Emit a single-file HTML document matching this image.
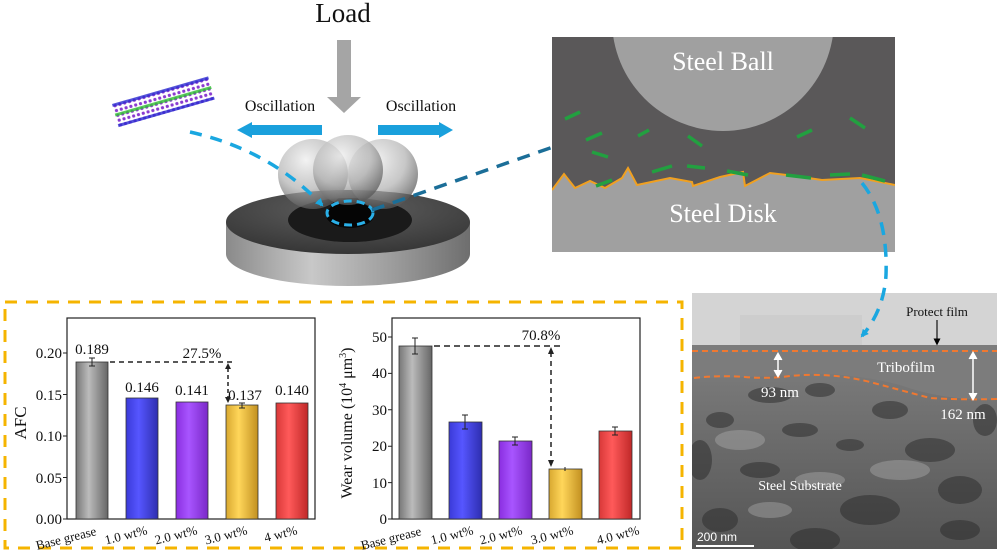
<!DOCTYPE html>
<html><head><meta charset="utf-8"><style>
html,body{margin:0;padding:0;background:#fff;}
svg{display:block;font-family:"Liberation Serif",serif;}
</style></head><body>
<svg width="997" height="555" viewBox="0 0 997 555" xmlns="http://www.w3.org/2000/svg">
<defs>
<linearGradient id="side" x1="0" x2="1"><stop offset="0" stop-color="#8a8a8a"/><stop offset="0.35" stop-color="#c8c8c8"/><stop offset="0.7" stop-color="#9a9a9a"/><stop offset="1" stop-color="#6e6e6e"/></linearGradient>
<radialGradient id="top" cx="0.5" cy="0.3" r="0.7"><stop offset="0" stop-color="#606060"/><stop offset="1" stop-color="#363636"/></radialGradient>
<radialGradient id="ball" cx="0.4" cy="0.3" r="0.7"><stop offset="0" stop-color="#f0f0f0" stop-opacity="0.8"/><stop offset="0.6" stop-color="#b0b0b0" stop-opacity="0.7"/><stop offset="1" stop-color="#5a5a5a" stop-opacity="0.75"/></radialGradient>
<linearGradient id="g0" x1="0" x2="1"><stop offset="0" stop-color="#777"/><stop offset="0.4" stop-color="#bbb"/><stop offset="1" stop-color="#666"/></linearGradient>
<linearGradient id="g1" x1="0" x2="1"><stop offset="0" stop-color="#3a3ad8"/><stop offset="0.4" stop-color="#5656ff"/><stop offset="1" stop-color="#2e2eb0"/></linearGradient>
<linearGradient id="g2" x1="0" x2="1"><stop offset="0" stop-color="#8a2ee0"/><stop offset="0.4" stop-color="#a855ff"/><stop offset="1" stop-color="#7a28c8"/></linearGradient>
<linearGradient id="g3" x1="0" x2="1"><stop offset="0" stop-color="#d8a830"/><stop offset="0.4" stop-color="#ffd65a"/><stop offset="1" stop-color="#c29020"/></linearGradient>
<linearGradient id="g4" x1="0" x2="1"><stop offset="0" stop-color="#d83838"/><stop offset="0.4" stop-color="#ff5a5a"/><stop offset="1" stop-color="#c02828"/></linearGradient>
<linearGradient id="tem" x1="0" y1="0" x2="0" y2="1"><stop offset="0" stop-color="#8a8a8a"/><stop offset="0.3" stop-color="#7a7a7a"/><stop offset="0.6" stop-color="#6a6a6a"/><stop offset="1" stop-color="#555"/></linearGradient>
<clipPath id="sc"><rect x="552" y="37" width="343" height="215"/></clipPath>
<clipPath id="tc"><rect x="692" y="293" width="305" height="256"/></clipPath>
<pattern id="mol" width="5" height="5" patternUnits="userSpaceOnUse"><circle cx="2.5" cy="2.5" r="1.6" fill="#8a3ad0"/></pattern>
<marker id="ab" markerWidth="8" markerHeight="8" refX="6" refY="4" orient="auto" markerUnits="userSpaceOnUse"><path d="M0,0 L8,4 L0,8z" fill="#1aa7e0"/></marker>
<marker id="ak" markerWidth="7" markerHeight="7" refX="3.5" refY="3.5" orient="auto" markerUnits="userSpaceOnUse"><path d="M0,0 L7,3.5 L0,7z" fill="#000"/></marker>
</defs>

<!-- Load -->
<text x="343" y="22" font-size="27" text-anchor="middle" fill="#111">Load</text>
<rect x="337" y="40" width="14" height="58" fill="#a5a5a5"/>
<path d="M327,97 L361,97 L344,113z" fill="#a5a5a5"/>
<text x="280" y="111" font-size="16" text-anchor="middle" fill="#111">Oscillation</text>
<text x="421" y="111" font-size="16" text-anchor="middle" fill="#111">Oscillation</text>
<rect x="252" y="125" width="70" height="10" fill="#1aa0dc"/><path d="M252,122 L237,130 L252,138z" fill="#1aa0dc"/>
<rect x="378" y="125" width="62" height="10" fill="#1aa0dc"/><path d="M439,122 L453,130 L439,138z" fill="#1aa0dc"/>

<!-- molecule -->
<g transform="translate(112,104) rotate(-16)">
<rect x="0" y="0" width="100" height="24" fill="url(#mol)"/>
<rect x="0" y="0" width="100" height="3" fill="#2b2bd0" opacity="0.8"/>
<rect x="0" y="21" width="100" height="3" fill="#2b2bd0" opacity="0.8"/>
<rect x="0" y="10" width="100" height="3" fill="#30c030" opacity="0.8"/>
</g>

<!-- disk -->
<path d="M226,222 L226,254 A122,32 0 0 0 470,254 L470,222z" fill="url(#side)"/>
<ellipse cx="348" cy="222" rx="122" ry="32" fill="url(#top)"/>
<ellipse cx="350" cy="220" rx="62" ry="22" fill="#1a1a1a"/>
<ellipse cx="350" cy="215" rx="24" ry="13" fill="#050505"/>
<!-- balls -->
<circle cx="313" cy="174" r="35" fill="url(#ball)"/>
<circle cx="383" cy="174" r="35" fill="url(#ball)"/>
<circle cx="348" cy="170" r="35" fill="url(#ball)"/>
<ellipse cx="350" cy="213" rx="23" ry="12" fill="none" stroke="#2ab0e8" stroke-width="3" stroke-dasharray="8,5"/>

<!-- schematic -->
<g clip-path="url(#sc)">
<rect x="552" y="37" width="343" height="215" fill="#5a5859"/>
<circle cx="723" cy="20" r="111" fill="#a0a0a0"/>
<path d="M552,190 L564,174 L575,188 L590,181 L605,188 L622,178 L628,168 L637,185 L670,178 L692,182 L693,186 L720,177 L743,172 L745,186 L770,173 L795,176 L822,180 L860,178 L895,185 L895,252 L552,252z" fill="#a0a0a0"/>
<path d="M552,190 L564,174 L575,188 L590,181 L605,188 L622,178 L628,168 L637,185 L670,178 L692,182 L693,186 L720,177 L743,172 L745,186 L770,173 L795,176 L822,180 L860,178 L895,185" fill="none" stroke="#f0a020" stroke-width="2"/>
<g stroke="#22a040" stroke-width="3.5">
<path d="M565,119 L580,112 M586,140 L602,133 M592,152 L608,157 M638,136 L649,130 M688,136 L702,146 M687,166 L705,168 M652,172 L672,166 M596,186 L612,180 M727,171 L748,175 M797,137 L812,130 M850,118 L865,128 M786,175 L811,178 M830,175 L850,174 M862,175 L885,181"/>
</g>
<text x="723" y="70" font-size="26" text-anchor="middle" fill="#fff">Steel Ball</text>
<text x="723" y="222" font-size="26" text-anchor="middle" fill="#fff">Steel Disk</text>
</g>

<!-- TEM -->
<g clip-path="url(#tc)">
<rect x="692" y="293" width="305" height="256" fill="url(#tem)"/>
<g fill="#2a2a2a" opacity="0.5">
<ellipse cx="770" cy="395" rx="22" ry="8"/><ellipse cx="820" cy="390" rx="15" ry="7"/><ellipse cx="890" cy="410" rx="18" ry="9"/>
<ellipse cx="720" cy="420" rx="14" ry="8"/><ellipse cx="800" cy="430" rx="18" ry="7"/><ellipse cx="930" cy="450" rx="25" ry="12"/>
<ellipse cx="850" cy="445" rx="14" ry="6"/><ellipse cx="760" cy="470" rx="20" ry="8"/><ellipse cx="960" cy="490" rx="22" ry="14"/>
<ellipse cx="870" cy="510" rx="30" ry="15"/><ellipse cx="720" cy="520" rx="18" ry="12"/><ellipse cx="960" cy="530" rx="20" ry="10"/>
<ellipse cx="700" cy="460" rx="12" ry="20"/><ellipse cx="815" cy="540" rx="25" ry="12"/><ellipse cx="985" cy="420" rx="12" ry="16"/>
</g>
<g fill="#bdbdbd" opacity="0.35">
<ellipse cx="740" cy="440" rx="25" ry="10"/><ellipse cx="900" cy="470" rx="30" ry="10"/><ellipse cx="820" cy="480" rx="25" ry="8"/><ellipse cx="770" cy="510" rx="22" ry="8"/>
</g>
<path d="M692,345 L997,345 L997,400 Q940,400 900,385 Q840,370 790,375 Q740,378 692,378z" fill="#7c7c7c"/>
<rect x="692" y="293" width="305" height="52" fill="#d4d4d4"/>
<rect x="740" y="315" width="122" height="30" fill="#cdcdcd"/>
</g>
<path d="M692,351 L997,351" stroke="#f07830" stroke-width="2" stroke-dasharray="6,4"/>
<path d="M694,378 Q720,375 745,377 Q770,379 790,376 Q830,372 870,382 Q900,390 930,398 Q960,400 997,399" fill="none" stroke="#f07830" stroke-width="2" stroke-dasharray="6,4"/>
<text x="937" y="316" font-size="13" text-anchor="middle" fill="#111">Protect film</text>
<path d="M937,320 L937,342" stroke="#111" stroke-width="1.2" marker-end="url(#ak)"/>
<text x="906" y="372" font-size="15" text-anchor="middle" fill="#fff">Tribofilm</text>
<path d="M778,356 L778,374 M973,355 L973,397" stroke="#fff" stroke-width="1.5"/>
<path d="M774,360 L778,353 L782,360 M774,370 L778,377 L782,370 M969,359 L973,352 L977,359 M969,393 L973,400 L977,393" fill="#fff" stroke="#fff"/>
<text x="780" y="397" font-size="15" text-anchor="middle" fill="#fff">93 nm</text>
<text x="963" y="419" font-size="15" text-anchor="middle" fill="#fff">162 nm</text>
<text x="800" y="490" font-size="14" text-anchor="middle" fill="#fff">Steel Substrate</text>
<text x="697" y="541" font-size="12" fill="#fff" font-family="Liberation Sans,sans-serif">200 nm</text>
<rect x="696" y="545" width="58" height="2" fill="#fff"/>

<!-- connectors -->
<path d="M190,132 Q270,150 322,205" fill="none" stroke="#1aa7e0" stroke-width="3.5" stroke-dasharray="12,9" marker-end="url(#ab)"/>
<path d="M372,210 L553,147" fill="none" stroke="#1b6e98" stroke-width="3.5" stroke-dasharray="13,9"/>
<path d="M862,183 Q888,215 886,275 Q884,310 862,336" fill="none" stroke="#1aa7e0" stroke-width="3.5" stroke-dasharray="13,9" marker-end="url(#ab)"/>

<!-- dashed orange box -->
<rect x="5" y="302" width="677" height="246" fill="none" stroke="#f5b400" stroke-width="3" stroke-dasharray="12,9"/>

<!-- chart 1 -->
<g font-size="15" fill="#111">
<rect x="67" y="318" width="248" height="201" fill="none" stroke="#222" stroke-width="1.2"/>
<g stroke="#222" stroke-width="1"><path d="M63,519h4M63,477.5h4M63,436h4M63,394.5h4M63,353h4"/></g>
<g text-anchor="end"><text x="62" y="524">0.00</text><text x="62" y="483">0.05</text><text x="62" y="441">0.10</text><text x="62" y="400">0.15</text><text x="62" y="358">0.20</text></g>
<text transform="translate(26,423) rotate(-90)" text-anchor="middle" font-size="17">AFC</text>
<rect x="76" y="362" width="32" height="157" fill="url(#g0)" stroke="#333" stroke-width="0.8"/>
<rect x="126" y="398" width="32" height="121" fill="url(#g1)" stroke="#333" stroke-width="0.8"/>
<rect x="176" y="402" width="32" height="117" fill="url(#g2)" stroke="#333" stroke-width="0.8"/>
<rect x="226" y="405" width="32" height="114" fill="url(#g3)" stroke="#333" stroke-width="0.8"/>
<rect x="276" y="403" width="32" height="116" fill="url(#g4)" stroke="#333" stroke-width="0.8"/>
<g stroke="#222"><path d="M92,358v8M89,358h6M89,366h6M242,403v5M239,403h6M239,408h6"/></g>
<g text-anchor="middle"><text x="92" y="354">0.189</text><text x="142" y="392">0.146</text><text x="192" y="395">0.141</text><text x="245" y="400">0.137</text><text x="292" y="395">0.140</text><text x="202" y="358">27.5%</text></g>
<path d="M110,362 L236,362" stroke="#222" stroke-width="1.5" stroke-dasharray="5,4"/>
<path d="M228,368 L228,398" stroke="#222" stroke-width="1.5" stroke-dasharray="4,3"/>
<path d="M225,369 L228,363 L231,369z M225,397 L228,403 L231,397z" fill="#222"/>
<g font-size="13" text-anchor="end">
<text transform="translate(97,535) rotate(-14)">Base grease</text>
<text transform="translate(148,534) rotate(-14)">1.0 wt%</text>
<text transform="translate(198,534) rotate(-14)">2.0 wt%</text>
<text transform="translate(248,534) rotate(-14)">3.0 wt%</text>
<text transform="translate(298,534) rotate(-14)">4 wt%</text>
</g>
</g>

<!-- chart 2 -->
<g font-size="15" fill="#111">
<rect x="392" y="318" width="248" height="201" fill="none" stroke="#222" stroke-width="1.2"/>
<g stroke="#222" stroke-width="1"><path d="M388,519h4M388,482.6h4M388,446.2h4M388,409.8h4M388,373.4h4M388,337h4"/></g>
<g text-anchor="end"><text x="387" y="524">0</text><text x="387" y="488">10</text><text x="387" y="451">20</text><text x="387" y="415">30</text><text x="387" y="378">40</text><text x="387" y="342">50</text></g>
<text transform="translate(352,423) rotate(-90)" text-anchor="middle" font-size="16">Wear volume (10<tspan dy="-6" font-size="10">4</tspan><tspan dy="6"> μm</tspan><tspan dy="-6" font-size="10">3</tspan><tspan dy="6">)</tspan></text>
<rect x="399" y="346" width="33" height="173" fill="url(#g0)" stroke="#333" stroke-width="0.8"/>
<rect x="449" y="422" width="33" height="97" fill="url(#g1)" stroke="#333" stroke-width="0.8"/>
<rect x="499" y="441" width="33" height="78" fill="url(#g2)" stroke="#333" stroke-width="0.8"/>
<rect x="549" y="469" width="33" height="50" fill="url(#g3)" stroke="#333" stroke-width="0.8"/>
<rect x="599" y="431" width="33" height="88" fill="url(#g4)" stroke="#333" stroke-width="0.8"/>
<g stroke="#222"><path d="M415,338v16M412,338h6M412,354h6M465,415v14M462,415h6M462,429h6M515,437v8M512,437h6M512,445h6M565,467v4M615,427v8M612,427h6M612,435h6"/></g>
<text x="541" y="340" text-anchor="middle">70.8%</text>
<path d="M434,346 L562,346" stroke="#222" stroke-width="1.5" stroke-dasharray="6,4"/>
<path d="M551,352 L551,462" stroke="#222" stroke-width="1.5" stroke-dasharray="5,4"/>
<path d="M548,354 L551,347 L554,354z M548,460 L551,467 L554,460z" fill="#222"/>
<g font-size="13" text-anchor="end">
<text transform="translate(422,535) rotate(-14)">Base grease</text>
<text transform="translate(474,534) rotate(-14)">1.0 wt%</text>
<text transform="translate(523,534) rotate(-14)">2.0 wt%</text>
<text transform="translate(574,534) rotate(-14)">3.0 wt%</text>
<text transform="translate(640,534) rotate(-14)">4.0 wt%</text>
</g>
</g>
</svg>
</body></html>
